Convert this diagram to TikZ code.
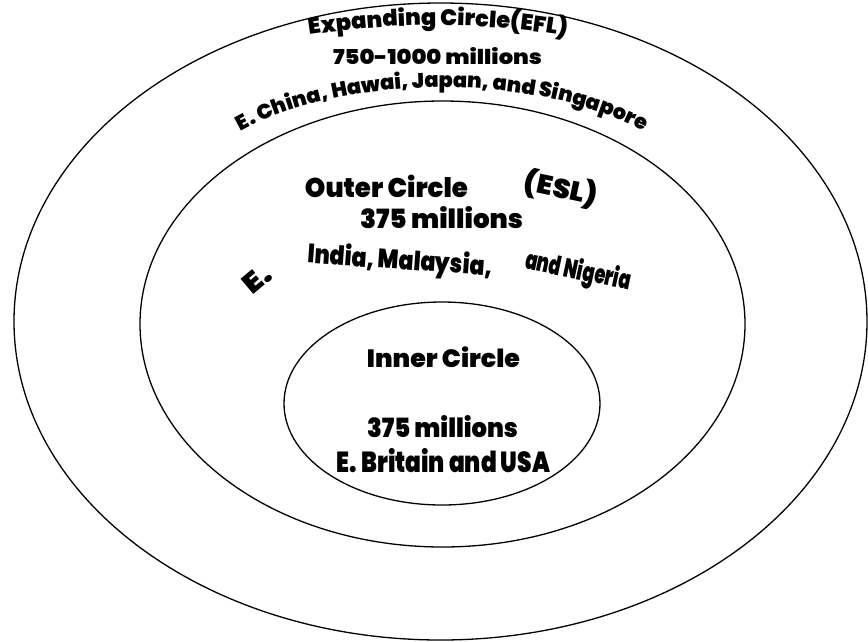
\documentclass[tikz,border=0pt]{standalone}
\usepackage{fontspec}
\usepackage{graphicx}
\usetikzlibrary{shapes.geometric,decorations.text}
\newfontfamily\heavy{Poppins}[UprightFont={* Black}]
\newcommand{\wt}[3]{\resizebox{#1}{\height}{\fontsize{#2}{#2}\selectfont #3}}
\tikzset{
  ring/.style={ellipse, draw=black, line width=1.3pt, inner sep=0pt},
  lbl/.style={font=\heavy, text=black, inner sep=0pt},
}
\begin{document}
\begin{tikzpicture}[x=1pt,y=-1pt]
\useasboundingbox (0,0) rectangle (868,641);
% rings
\node[ring, minimum width=853pt, minimum height=637pt] (outer) at (440.5,321.5) {};
\node[ring, minimum width=605pt, minimum height=446pt] (middle) at (442.5,324) {};
\node[ring, minimum width=316pt, minimum height=203pt] (inner) at (442,403.5) {};
% expanding circle
\path[decorate, decoration={text along path, text align=center,
  text={|\heavy\fontsize{22.5}{23}\selectfont|Expanding Circle(EFL)}}]
  (296,37) .. controls (390,21) and (490,21) .. (580,39);
\node[lbl, anchor=base] (efln) at (437.5,64) {\wt{209pt}{20.5}{750-1000 millions}};
\path[decorate, decoration={text along path, text align=center,
  text={|\heavy\fontsize{20.8}{21}\selectfont|E. China, Hawai, Japan, and Singapore}}]
  (230,138) .. controls (330,73) and (540,68) .. (655,138);
% outer circle
\node[lbl, anchor=base] (outt) at (386.5,197) {\wt{163pt}{27}{Outer Circle}};
\node[lbl, rotate=-12] (esl) at (561,189) {\wt{74pt}{27}{(ESL)}};
\node[lbl, anchor=base] (outn) at (441.5,228) {\wt{163pt}{26.5}{375 millions}};
\node[lbl, rotate=40] (oute) at (257,279) {\wt{28pt}{28}{E.}};
\node[lbl, rotate=-4] (india) at (400,262) {\wt{185pt}{26.5}{India, Malaysia,}};
\node[lbl, rotate=-12] (nig) at (578,272) {\wt{107pt}{26.5}{and Nigeria}};
% inner circle
\node[lbl, anchor=base] (innt) at (443.5,367) {\wt{153pt}{25}{Inner Circle}};
\node[lbl, anchor=base] (innn) at (442.5,437) {\wt{151pt}{26.5}{375 millions}};
\node[lbl, anchor=base] (inne) at (443.5,472) {\wt{213pt}{29}{E. Britain and USA}};
\end{tikzpicture}
\end{document}
